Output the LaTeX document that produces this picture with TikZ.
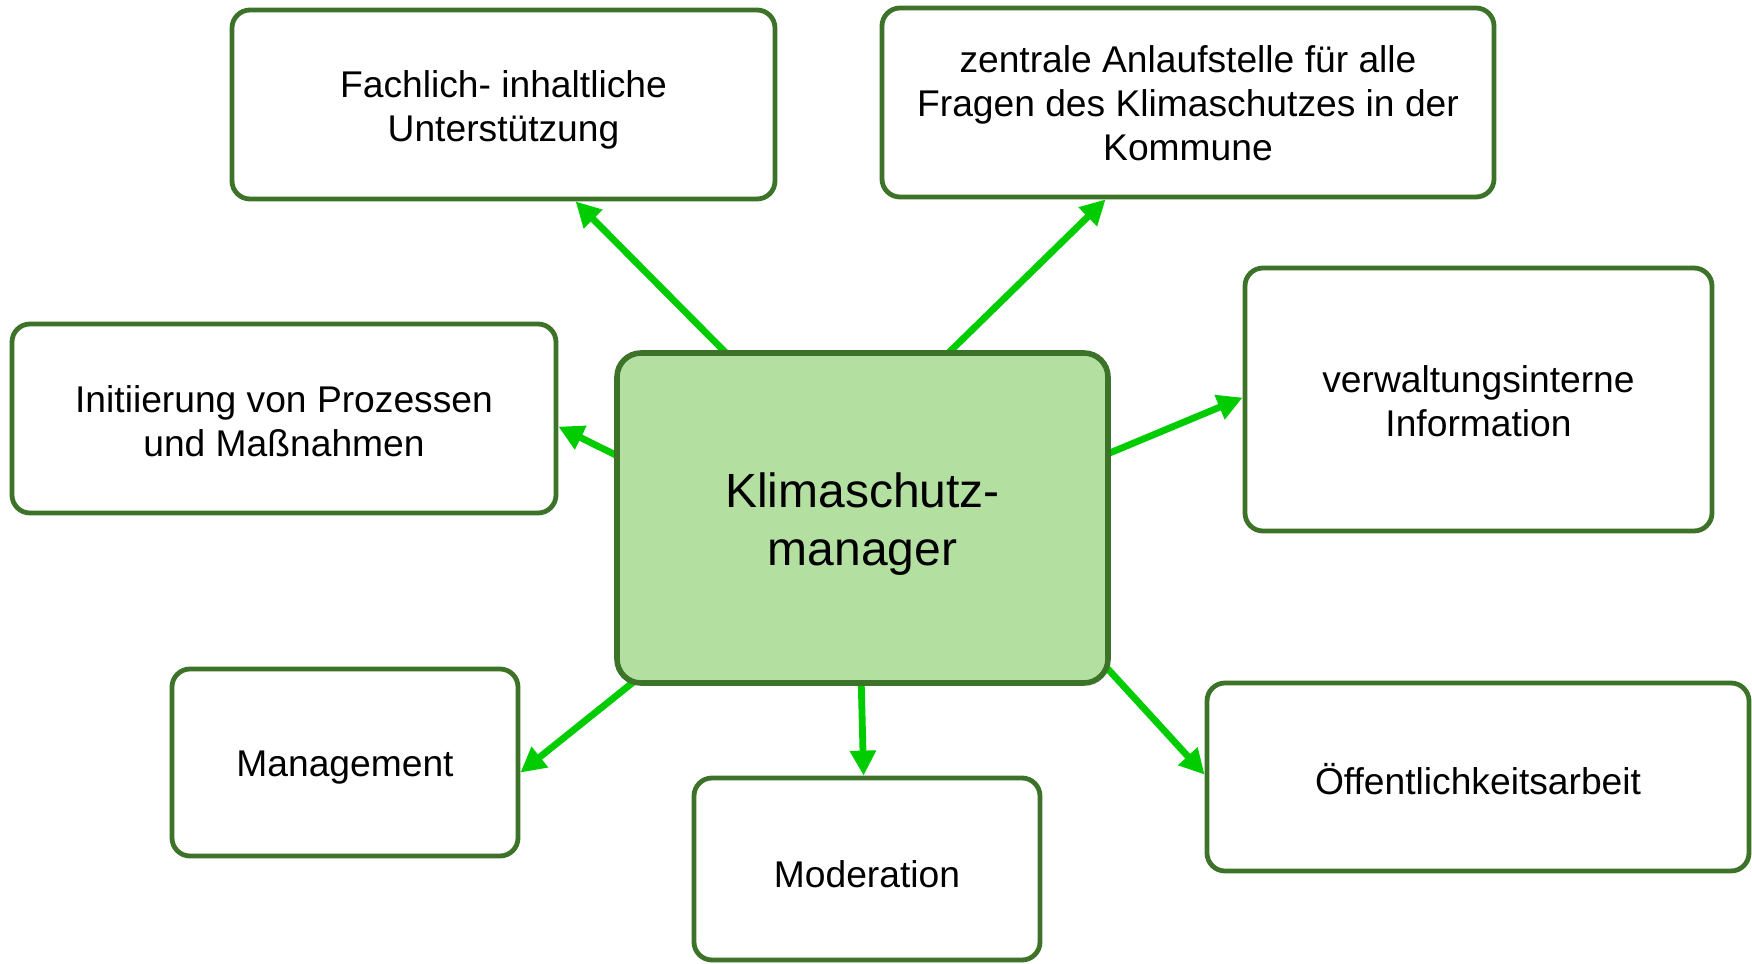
\documentclass[tikz,border=0pt]{standalone}
\usepackage{fontspec}
\setmainfont{Liberation Sans}
\usetikzlibrary{arrows.meta,calc,backgrounds}
\definecolor{bord}{HTML}{3D7328}
\definecolor{cfill}{HTML}{B3DFA0}
\definecolor{arr}{HTML}{00CC00}
\begin{document}
\begin{tikzpicture}[x=0.5pt,y=-0.5pt,
  box/.style={draw=bord, line width=2.4pt, rounded corners=9pt, fill=white, inner sep=0pt},
  boxtext/.style={font=\fontsize{18.6}{22}\selectfont, align=center, inner sep=0pt, yshift=-2.5pt},
  mainbox/.style={draw=bord, line width=2.8pt, rounded corners=12pt, fill=cfill, inner sep=0pt},
  maintext/.style={font=\fontsize{24}{29}\selectfont, align=center, inner sep=0pt, yshift=-3pt},
  link/.style={draw=arr, line width=3.4pt, -{Triangle[length=12.5pt,width=12.5pt]}}]
\useasboundingbox (0,0) rectangle (1752,964);
\begin{scope}[on background layer]
\fill[white] (0,0) rectangle (1752,964);
\end{scope}

\node[mainbox, minimum width=245.5pt, minimum height=165pt,
  label={[maintext]center:{Klimaschutz-\\manager}}] (km) at (862.5,518) {};
\node[box, minimum width=271.5pt, minimum height=94.5pt,
  label={[boxtext]center:{Fachlich- inhaltliche\\Unterstützung}}] (fach) at (503.5,104.5) {};
\node[box, minimum width=306pt, minimum height=94.5pt,
  label={[boxtext, yshift=2pt]center:{zentrale Anlaufstelle für alle\\Fragen des Klimaschutzes in der\\Kommune}}] (zent) at (1188,102.5) {};
\node[box, minimum width=272pt, minimum height=94.5pt,
  label={[boxtext, yshift=1pt]center:{Initiierung von Prozessen\\und Maßnahmen}}] (init) at (284,418.5) {};
\node[box, minimum width=233.5pt, minimum height=131.5pt,
  label={[boxtext, yshift=1.5pt]center:{verwaltungsinterne\\Information}}] (verw) at (1478.5,399.5) {};
\node[box, minimum width=173pt, minimum height=93.5pt,
  label={[boxtext]center:{Management}}] (mgmt) at (345,762.5) {};
\node[box, minimum width=173pt, minimum height=91pt,
  label={[boxtext]center:{Moderation}}] (mod) at (867,869) {};
\node[box, minimum width=271pt, minimum height=94pt,
  label={[boxtext, yshift=1.5pt]center:{Öffentlichkeitsarbeit}}] (oeff) at (1478,777) {};

\begin{scope}[on background layer]
\draw[link] ($(km.north west)+(113,4)$) -- ($(fach.south west)+(346,0)$);
\draw[link] ($(km.north west)+(333,4)$) -- ($(zent.south west)+(226,0)$);
\draw[link] ($(km.north west)+(4,106)$) -- ($(init.north east)+(0,105)$);
\draw[link] ($(km.north east)+(-4,104)$) -- ($(verw.north west)+(0,132)$);
\draw[link] ($(km.south west)+(22,-6)$) -- ($(mgmt.north east)+(0,106)$);
\draw[link] ($(km.south west)+(247,-4)$) -- ($(mod.north west)+(172,0)$);
\draw[link] ($(km.south east)+(-4,-18)$) -- ($(oeff.north west)+(0,94)$);
\end{scope}
\end{tikzpicture}
\end{document}
